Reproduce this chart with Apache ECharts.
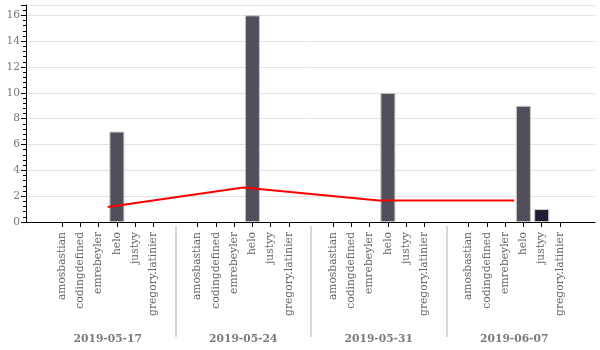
<!DOCTYPE html>
<html>
<head>
<meta charset="utf-8">
<script src="https://cdn.jsdelivr.net/npm/echarts@6/dist/echarts.min.js"></script>
<style>html,body{margin:0;padding:0;background:#fff;}#c{width:600px;height:350px;}</style>
</head>
<body>
<div id="c"></div>
<script>
const dates = ['2019-05-17', '2019-05-24', '2019-05-31', '2019-06-07'];
const names = ['amosbastian', 'codingdefined', 'emrebeyler', 'helo', 'justyy', 'gregory.latinier'];
const counts0517 = [0, 0, 0, 7, 0, 0];
const counts0524 = [0, 0, 0, 16, 0, 0];
const counts0531 = [0, 0, 0, 10, 0, 0];
const counts0607 = [0, 0, 0, 9, 1, 0];
const meanPerDate = [1.17, 2.67, 1.67, 1.67];
const yMin = 0, yMax = 16.8, yInterval = 2;

const groups = [counts0517, counts0524, counts0531, counts0607];
const nameColors = {helo: '#524f5b', justyy: '#221a33'};
const FONT = 'DejaVu Serif';
const FS = 10.7;

// layout
const PLOT_L = 26, PLOT_R = 5, PLOT_T = 5, PLOT_B = 128;
const DATE_L = 40, DATE_W = 542;
const SLOT = 18.3;
const groupWidth = DATE_W / dates.length;

const grids = [
  {left: PLOT_L, right: PLOT_R, top: PLOT_T, bottom: PLOT_B},
  {left: DATE_L, width: DATE_W, top: PLOT_T, bottom: PLOT_B},
  {left: DATE_L, width: DATE_W, top: 226, bottom: 13}
];
const xAxes = [
  {gridIndex: 0, type: 'value', min: 0, max: 1, axisLine: {show: true, onZero: false, lineStyle: {color: '#000', width: 1}}, axisTick: {show: false}, axisLabel: {show: false}, splitLine: {show: false}},
  {gridIndex: 1, type: 'category', data: dates, show: false, boundaryGap: true},
  {gridIndex: 2, type: 'category', data: dates, boundaryGap: true, axisLine: {show: false}, axisTick: {show: false},
    axisLabel: {margin: -3, color: '#7a7a7a', fontWeight: 'bold', fontFamily: FONT, fontSize: FS},
    splitLine: {show: true, showMinLine: false, showMaxLine: false, interval: 0, lineStyle: {color: '#d8d8d8', width: 2}}}
];
const yAxes = [
  {gridIndex: 0, type: 'value', min: yMin, max: yMax, interval: yInterval,
    axisLine: {show: true, lineStyle: {color: '#000', width: 1}},
    axisTick: {show: true, length: 5, lineStyle: {color: '#000'}},
    minorTick: {show: true, splitNumber: 5, length: 3, lineStyle: {color: '#000'}},
    axisLabel: {margin: 6, color: '#777', fontFamily: FONT, fontSize: FS, showMaxLabel: false},
    splitLine: {show: true, lineStyle: {color: '#e3e3e3', width: 1}}},
  {gridIndex: 1, type: 'value', min: yMin, max: yMax, show: false},
  {gridIndex: 2, type: 'value', show: false}
];
const series = [
  {type: 'line', xAxisIndex: 1, yAxisIndex: 1, data: meanPerDate, symbol: 'none', z: 5,
    lineStyle: {color: '#ff0000', width: 2}, itemStyle: {color: '#ff0000'}}
];
groups.forEach((vals, gi) => {
  const center = DATE_L + groupWidth * (gi + 0.5);
  const idx = grids.length;
  grids.push({left: center - SLOT * names.length / 2, width: SLOT * names.length, top: PLOT_T, bottom: PLOT_B});
  xAxes.push({gridIndex: idx, type: 'category', data: names, boundaryGap: true,
    axisLine: {show: false},
    axisTick: {show: true, alignWithLabel: true, length: 5, lineStyle: {color: '#000'}},
    axisLabel: {rotate: 90, margin: 10, interval: 0, color: '#666', fontFamily: FONT, fontSize: FS}});
  yAxes.push({gridIndex: idx, type: 'value', min: yMin, max: yMax, show: false});
  series.push({type: 'bar', xAxisIndex: idx, yAxisIndex: idx, barWidth: 15,
    data: vals.map((v, i) => v > 0 ? {value: v, itemStyle: {color: nameColors[names[i]] || '#524f5b', borderColor: '#c8c8c8', borderWidth: 1}} : {value: v, itemStyle: {color: 'rgba(0,0,0,0)'}})});
});

const chart = echarts.init(document.getElementById('c'), null, {renderer: 'canvas'});
chart.setOption({animation: false, grid: grids, xAxis: xAxes, yAxis: yAxes, series: series});
</script>
</body>
</html>
